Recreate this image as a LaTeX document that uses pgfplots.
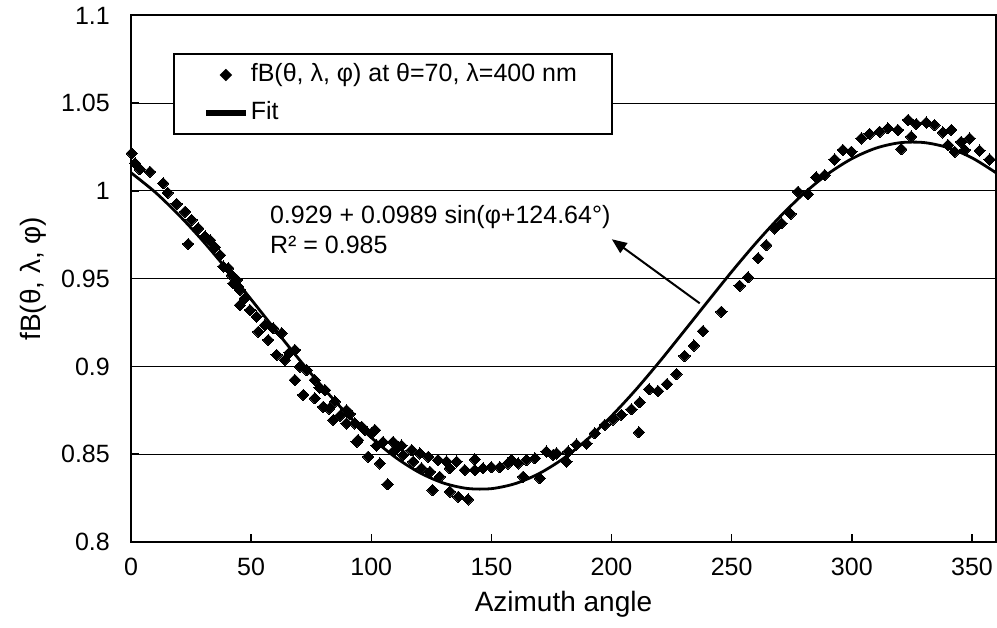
\documentclass[border=0pt]{standalone}
\usepackage{fontspec}
\setmainfont{Liberation Sans}
\usepackage{pgfplots}
\pgfplotsset{compat=1.18}
\usetikzlibrary{arrows.meta}
\newcommand\ff{\fontsize{25}{30}\selectfont}
\newcommand\fl{\fontsize{28}{33}\selectfont}
\begin{document}
\begin{tikzpicture}[x=1pt,y=1pt]
\useasboundingbox (-131,-86) rectangle (866,542);
\begin{axis}[
  at={(0,0)}, anchor=south west,
  scale only axis, width=865pt, height=526.5pt,
  xmin=0, xmax=360, ymin=0.8, ymax=1.1,
  xtick={0,50,100,150,200,250,300,350},
  xticklabels={0,50,100,150,200,250,300,350},
  ytick={0.8,0.85,0.9,0.95,1,1.05,1.1},
  yticklabels={0.8,0.85,0.9,0.95,1,1.05,1.1},
  tick align=inside, xtick pos=left, ytick pos=left,
  major tick length=8pt,
  every tick/.style={black, line width=1.5pt},
  axis line style={line width=2pt},
  ymajorgrids, major grid style={black, line width=1pt},
  tick label style={font=\ff, inner sep=0pt},
  xticklabel style={yshift=-16pt},
  yticklabel style={xshift=-21pt},
  label style={font=\fl},
  xlabel={Azimuth angle},
  ylabel={fB(θ, λ, φ)},
  xlabel style={at={(axis description cs:0.5,-0.118)}, anchor=center},
  ylabel style={at={(axis description cs:-0.1133,0.5)}, anchor=center},
  clip=false,
  legend cell align=left,
  legend style={at={(0.0486,0.9288)}, anchor=north west, draw=black, line width=2pt,
    fill=white, inner xsep=32pt, inner ysep=9.5pt, row sep=15pt, column sep=5pt,
    font=\ff, nodes={inner sep=0pt, text height=18pt, text depth=5pt}},
]
\addplot[only marks, mark=square*, mark size=4pt, mark options={rotate=45, fill=black, draw=black, line width=0pt},
  legend image code/.code={\path[draw=none] (0pt,0pt) -- (37pt,0pt);
    \fill[black, shift={(18.5pt,0pt)}, rotate=45] (-3.4pt,-3.4pt) rectangle (3.4pt,3.4pt);}]
coordinates {
(0.3,1.0215) (1.7,1.0158) (3.7,1.0124) (7.9,1.011) (13.4,1.0044) (15.3,0.999)
(19.0,0.9926) (22.5,0.9882) (23.8,0.9698) (25.2,0.9835) (28.0,0.9787) (30.8,0.974)
(32.9,0.972) (34.9,0.968) (37.0,0.9635) (38.4,0.957) (40.5,0.956) (41.9,0.952)
(42.6,0.9474) (44.0,0.9493) (44.6,0.9455) (45.3,0.9436) (45.3,0.935) (47.4,0.9389)
(49.5,0.9322) (52.3,0.9284) (53.0,0.9198) (55.7,0.9236) (57.1,0.9151) (59.2,0.9218)
(60.6,0.9066) (62.7,0.919) (64.0,0.9037) (66.0,0.908) (68.2,0.9094) (68.2,0.8923)
(70.3,0.8999) (71.7,0.8838) (73.1,0.898) (76.5,0.8923) (76.5,0.8819) (78.5,0.888)
(80.0,0.877) (80.7,0.8866) (82.5,0.876) (84.2,0.8695) (84.9,0.880) (87.0,0.872)
(89.7,0.875) (89.7,0.8676) (91.1,0.873) (93.2,0.8676) (93.9,0.857) (94.5,0.8581)
(96.0,0.8657) (97.3,0.8638) (98.7,0.8486) (100.1,0.862) (101.5,0.8638) (102.2,0.855)
(103.6,0.8448) (104.9,0.857) (106.8,0.8329) (109.1,0.857) (109.8,0.8524) (112.6,0.855)
(113.3,0.8496) (116.8,0.8524) (117.4,0.8458) (120.2,0.8505) (120.9,0.842) (123.7,0.8486)
(124.4,0.840) (125.5,0.8296) (127.8,0.8467) (128.5,0.8372) (131.3,0.8458) (132.7,0.8287)
(132.7,0.842) (135.5,0.8458) (136.2,0.8258) (138.9,0.841) (140.3,0.8243) (143.1,0.8471)
(143.1,0.841) (146.5,0.842) (150.0,0.8426) (153.5,0.8426) (156.9,0.8448) (158.4,0.8467)
(161.1,0.8448) (163.2,0.8372) (164.6,0.8467) (168.1,0.8477) (170.1,0.8363) (172.9,0.8515)
(175.7,0.8496) (177.1,0.8505) (181.2,0.8458) (181.9,0.8515) (185.4,0.8555) (189.6,0.856)
(193.0,0.862) (197.2,0.8667) (200.6,0.8698) (204.1,0.8724) (208.3,0.8756) (211.4,0.8625)
(211.7,0.8796) (215.6,0.887) (219.3,0.886) (223.1,0.890) (227.0,0.8957) (230.4,0.906)
(234.3,0.9119) (238.1,0.9202) (245.7,0.9312) (253.3,0.946) (256.8,0.9508) (261.0,0.9617)
(264.4,0.9692) (267.9,0.9787) (270.7,0.9816) (274.5,0.987) (277.6,0.9996) (281.7,0.9982)
(285.2,1.0078) (288.7,1.0091) (292.8,1.018) (296.3,1.0234) (299.8,1.0224) (304.0,1.030)
(307.4,1.0325) (311.6,1.0338) (315.0,1.0357) (319.2,1.0348) (320.6,1.0239) (323.4,1.0405)
(324.7,1.031) (326.8,1.0382) (331.0,1.039) (334.4,1.0376) (337.9,1.0334) (340.0,1.0262)
(341.4,1.0348) (342.8,1.0224) (345.5,1.028) (347.0,1.0234) (349.0,1.030) (353.2,1.023)
(357.3,1.018)
};
\addlegendentry{\makebox[329pt][l]{fB(θ, λ, φ) at θ=70, λ=400 nm}}
\addplot[black, line width=2.8pt, smooth,
  legend image code/.code={\fill[black] (0pt,-1.5pt) rectangle (37pt,1.5pt);}]
coordinates {
(0,1.0104) (10,0.9994) (20,0.9862) (30,0.9714) (40,0.9552) (50,0.9382) (60,0.9210)
(70,0.9040) (80,0.8878) (90,0.8728) (100,0.8595) (110,0.8483) (120,0.8396) (130,0.8336)
(140,0.8305) (150,0.8304) (160,0.8333) (170,0.8391) (180,0.8476) (190,0.8586) (200,0.8718)
(210,0.8866) (220,0.9028) (230,0.9198) (240,0.9370) (250,0.9540) (260,0.9702) (270,0.9852)
(280,0.9985) (290,1.0097) (300,1.0184) (310,1.0244) (320,1.0275) (330,1.0276) (340,1.0247)
(350,1.0189) (360,1.0104)
};
\addlegendentry{Fit}
\node[anchor=west, align=left, font=\ff, inner sep=0pt] at (axis cs:57.8,0.9778)
  {0.929 + 0.0989 sin(φ+124.64°)\\R² = 0.985};
\draw[black, line width=2pt, -{Triangle[length=15pt,width=12pt]}]
  (axis cs:236.7,0.936) -- (axis cs:200.1,0.9725);
\end{axis}
\end{tikzpicture}
\end{document}
